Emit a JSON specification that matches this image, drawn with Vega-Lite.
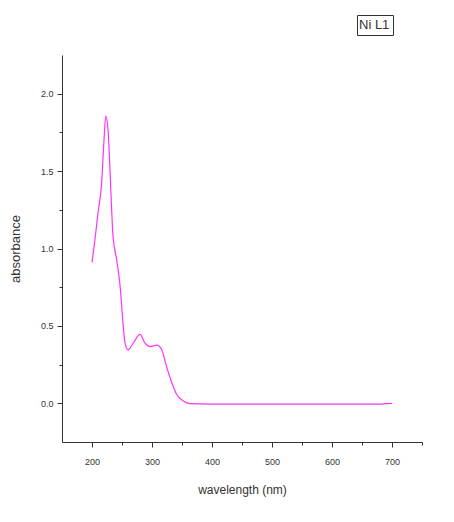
{
  "$schema": "https://vega.github.io/schema/vega-lite/v6.json",
  "autosize": "none",
  "width": 360,
  "height": 387,
  "padding": {"left": 62, "top": 55, "right": 32, "bottom": 80},
  "background": "white",
  "config": {"view": {"stroke": null}, "font": "Liberation Sans"},
  "data": {"values": [
    {"wavelength": 200, "absorbance": 0.91, "series": "Ni L1"},
    {"wavelength": 205, "absorbance": 1.06, "series": "Ni L1"},
    {"wavelength": 210, "absorbance": 1.23, "series": "Ni L1"},
    {"wavelength": 216, "absorbance": 1.42, "series": "Ni L1"},
    {"wavelength": 220, "absorbance": 1.70, "series": "Ni L1"},
    {"wavelength": 223, "absorbance": 1.855, "series": "Ni L1"},
    {"wavelength": 227, "absorbance": 1.75, "series": "Ni L1"},
    {"wavelength": 232, "absorbance": 1.32, "series": "Ni L1"},
    {"wavelength": 235, "absorbance": 1.08, "series": "Ni L1"},
    {"wavelength": 241, "absorbance": 0.93, "series": "Ni L1"},
    {"wavelength": 247, "absorbance": 0.75, "series": "Ni L1"},
    {"wavelength": 252, "absorbance": 0.50, "series": "Ni L1"},
    {"wavelength": 255, "absorbance": 0.39, "series": "Ni L1"},
    {"wavelength": 260, "absorbance": 0.345, "series": "Ni L1"},
    {"wavelength": 269, "absorbance": 0.39, "series": "Ni L1"},
    {"wavelength": 280, "absorbance": 0.445, "series": "Ni L1"},
    {"wavelength": 288, "absorbance": 0.39, "series": "Ni L1"},
    {"wavelength": 297, "absorbance": 0.366, "series": "Ni L1"},
    {"wavelength": 308, "absorbance": 0.376, "series": "Ni L1"},
    {"wavelength": 316, "absorbance": 0.348, "series": "Ni L1"},
    {"wavelength": 324, "absorbance": 0.24, "series": "Ni L1"},
    {"wavelength": 333, "absorbance": 0.133, "series": "Ni L1"},
    {"wavelength": 341, "absorbance": 0.058, "series": "Ni L1"},
    {"wavelength": 352, "absorbance": 0.015, "series": "Ni L1"},
    {"wavelength": 363, "absorbance": -0.002, "series": "Ni L1"},
    {"wavelength": 400, "absorbance": -0.005, "series": "Ni L1"},
    {"wavelength": 500, "absorbance": -0.005, "series": "Ni L1"},
    {"wavelength": 600, "absorbance": -0.005, "series": "Ni L1"},
    {"wavelength": 680, "absorbance": -0.005, "series": "Ni L1"},
    {"wavelength": 690, "absorbance": -0.002, "series": "Ni L1"},
    {"wavelength": 700, "absorbance": 0.0, "series": "Ni L1"}
  ]},
  "mark": {"type": "line", "interpolate": "monotone", "strokeWidth": 1.2},
  "encoding": {
    "x": {
      "field": "wavelength", "type": "quantitative",
      "scale": {"domain": [150, 750], "nice": false, "zero": false},
      "axis": {
        "title": "wavelength (nm)", "grid": false,
        "values": [250, 300, 350, 400, 450, 500, 550, 600, 650, 700, 750, 200],
        "labelExpr": "datum.value % 100 === 0 && datum.value <= 700 ? datum.label : ''",
        "tickSize": {"condition": {"test": "datum.value % 100 !== 0", "value": 3}, "value": 5},
        "domainColor": "#333", "tickColor": "#333",
        "labelFontSize": 9, "labelColor": "#333", "labelPadding": 10,
        "titleFontSize": 12, "titleFontWeight": "normal", "titleColor": "#333", "titlePadding": 18
      }
    },
    "y": {
      "field": "absorbance", "type": "quantitative",
      "scale": {"domain": [-0.25, 2.25], "nice": false, "zero": false},
      "axis": {
        "title": "absorbance", "grid": false,
        "values": [0, 0.25, 0.5, 0.75, 1, 1.25, 1.5, 1.75, 2],
        "format": ".1f",
        "labelExpr": "datum.value % 0.5 === 0 ? datum.label : ''",
        "tickSize": {"condition": {"test": "datum.value % 0.5 !== 0", "value": 3}, "value": 5},
        "domainColor": "#333", "tickColor": "#333",
        "labelFontSize": 9, "labelColor": "#333", "labelPadding": 4,
        "titleFontSize": 13, "titleFontWeight": "normal", "titleColor": "#333", "titlePadding": 18
      }
    },
    "color": {
      "field": "series", "type": "nominal",
      "scale": {"range": ["#ff33ff"]},
      "legend": {
        "title": null, "orient": "none", "legendX": 295, "legendY": -40,
        "strokeColor": "#333", "padding": 3, "symbolSize": 0.01, "symbolType": "circle", "symbolStrokeWidth": 0,
        "symbolOpacity": 0, "labelOffset": -14, "symbolOffset": 0,
        "labelFontSize": 13, "labelColor": "#333"
      }
    }
  }
}
